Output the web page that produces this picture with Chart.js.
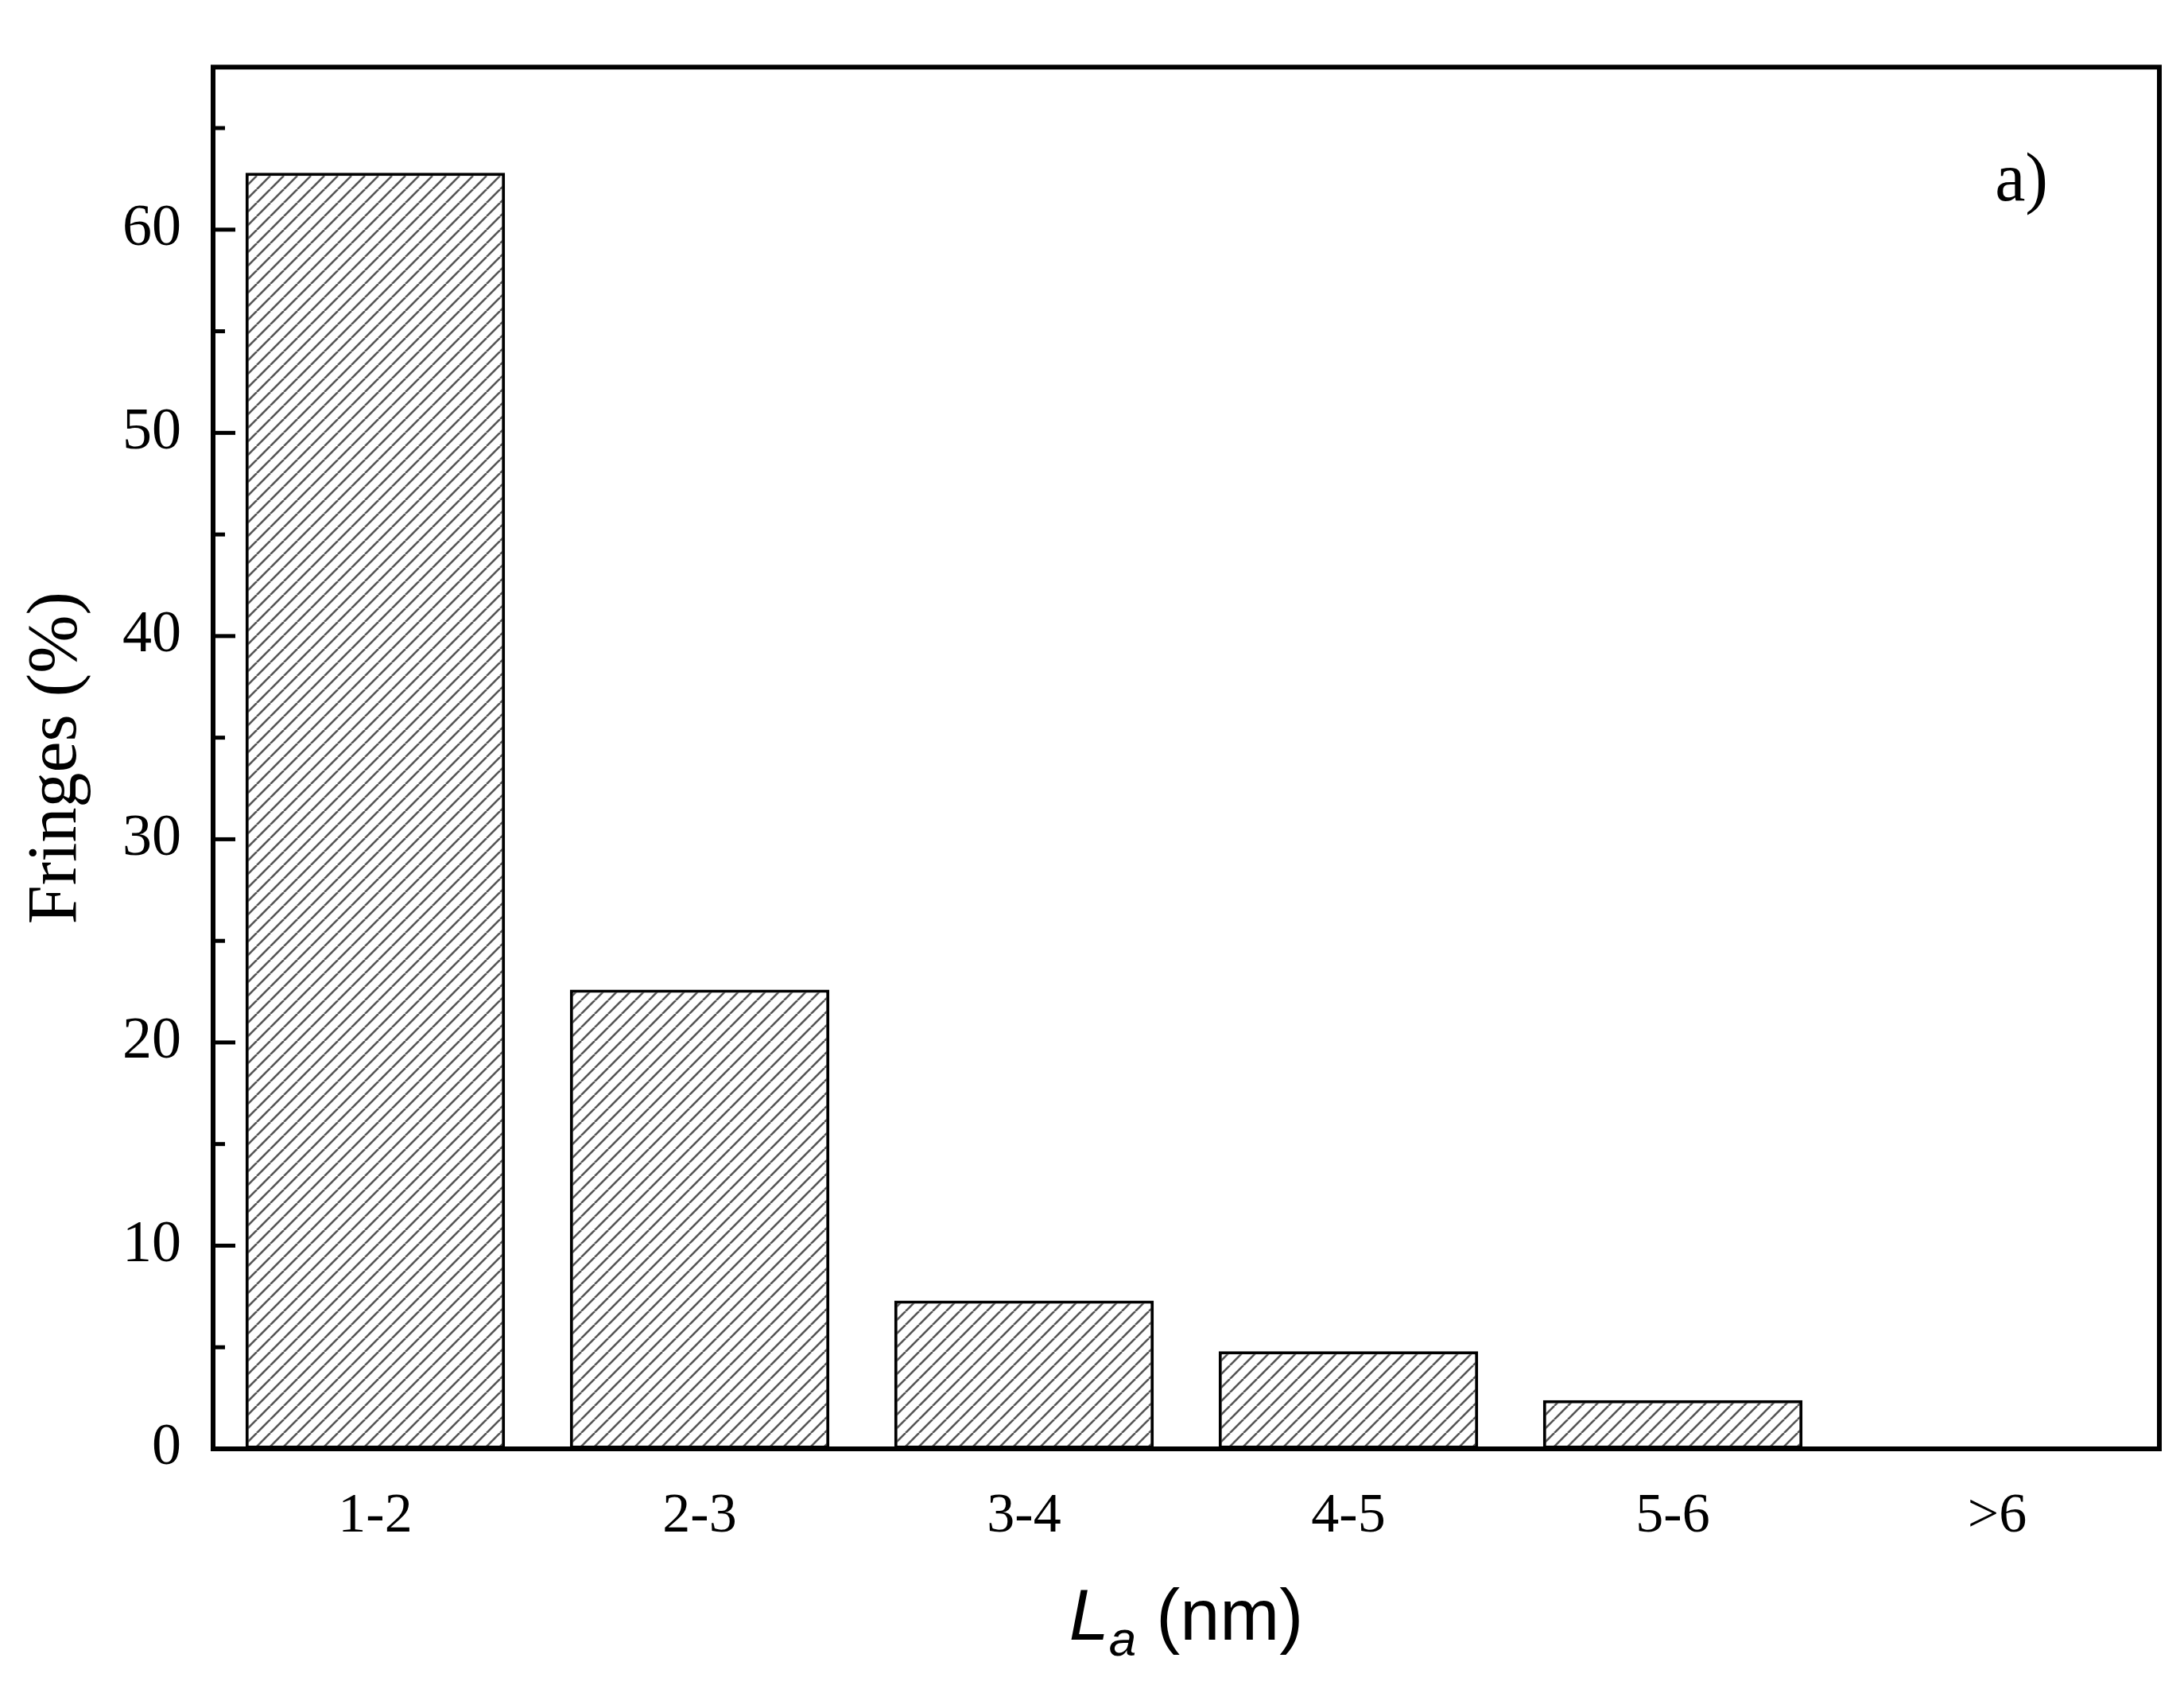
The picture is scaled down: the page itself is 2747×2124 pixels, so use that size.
<!DOCTYPE html>
<html><head><meta charset="utf-8">
<script src="https://cdn.jsdelivr.net/npm/chart.js@4"></script>
<style>html,body{margin:0;padding:0;background:#fff}</style>
</head><body>
<canvas id="c" width="2747" height="2124"></canvas>
<script>
const categories = ["1-2","2-3","3-4","4-5","5-6",">6"];
const fringes = [62.8, 22.6, 7.3, 4.8, 2.4, 0];
const yTicks = [0,10,20,30,40,50,60];

function hatch(){
  const p=document.createElement('canvas'); p.width=17; p.height=17;
  const g=p.getContext('2d'); g.fillStyle='#fff'; g.fillRect(0,0,17,17);
  g.strokeStyle='#555'; g.lineWidth=2.6;
  for(const o of [-17,0,17]){ g.beginPath(); g.moveTo(o,17); g.lineTo(o+17,0); g.stroke(); }
  return g.createPattern(p,'repeat');
}
const ctx=document.getElementById('c').getContext('2d');
const deco={id:'deco',afterDraw(ch){
  const c=ch.ctx,a=ch.chartArea,y=ch.scales.y;
  c.save(); c.strokeStyle='#000'; c.lineWidth=6;
  c.strokeRect(a.left,a.top,a.right-a.left,a.bottom-a.top);
  c.lineWidth=5;
  for(let v=5;v<=y.max;v+=5){const py=y.getPixelForValue(v);const L=(v%10===0)?28:15;
    c.beginPath();c.moveTo(a.left,py);c.lineTo(a.left+L,py);c.stroke();}
  c.fillStyle='#000'; c.font='86px "Liberation Serif"'; c.textAlign='right'; c.textBaseline='middle';
  c.fillText('a)',a.right-140,a.top+145);
  c.save(); c.translate(72,(a.top+a.bottom)/2); c.rotate(-Math.PI/2);
  c.textAlign='center'; c.font='88px "Liberation Serif"'; c.fillText('Fringes (%)',0,0); c.restore();
  c.textAlign='left'; c.textBaseline='alphabetic';
  const t1='L',t2='a',t3=' (nm)';
  c.font='italic 90px "Liberation Sans"'; const w1=c.measureText(t1).width;
  c.font='italic 62px "Liberation Sans"'; const w2=c.measureText(t2).width;
  c.font='90px "Liberation Sans"'; const w3=c.measureText(t3).width;
  let x=(a.left+a.right)/2-(w1+w2+w3)/2, by=2062;
  c.font='italic 90px "Liberation Sans"'; c.fillText(t1,x,by); x+=w1;
  c.font='italic 62px "Liberation Sans"'; c.fillText(t2,x,by+20); x+=w2;
  c.font='90px "Liberation Sans"'; c.fillText(t3,x,by);
  c.restore();
}};
new Chart(ctx,{type:'bar',
  data:{labels:categories,datasets:[{data:fringes,backgroundColor:hatch(),borderColor:'#000',borderWidth:4,borderSkipped:false,categoryPercentage:0.8,barPercentage:1}]},
  options:{responsive:false,devicePixelRatio:1,animation:false,
    layout:{padding:{top:4,right:31,left:0,bottom:0}},
    plugins:{legend:{display:false},tooltip:{enabled:false}},
    scales:{
      x:{grid:{display:false,drawTicks:false},border:{display:false},
        ticks:{padding:44,color:'#000',font:{family:'Liberation Serif',size:70}},
        afterFit(s){s.height=302;}},
      y:{min:0,max:68,grid:{display:false,drawTicks:false},border:{display:false},
        afterBuildTicks(s){s.ticks=yTicks.map(v=>({value:v}));},
        ticks:{padding:40,color:'#000',font:{family:'Liberation Serif',size:74}},
        afterFit(s){s.width=268;}}
    }},
  plugins:[deco]});
</script>
</body></html>
